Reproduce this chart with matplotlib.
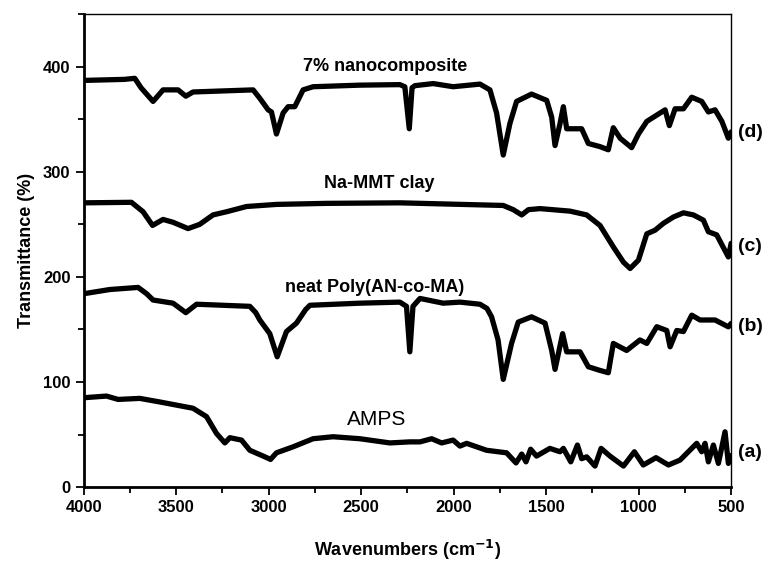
import matplotlib
matplotlib.use('Agg')
import matplotlib.pyplot as plt
from matplotlib.ticker import MultipleLocator
from matplotlib import rcParams

rcParams['font.family'] = ['Liberation Sans', 'DejaVu Sans']
rcParams['font.weight'] = 'bold'

# (a) AMPS
wn_a = [4000, 3877, 3814, 3697, 3589, 3409, 3336, 3282, 3237, 3210, 3147, 3102, 3030,
        2990, 2958, 2868, 2760, 2652, 2507, 2345, 2237, 2182, 2119, 2065, 2003, 1966,
        1930, 1822, 1714, 1663, 1632, 1609, 1584, 1552, 1480, 1425, 1407, 1367, 1331,
        1308, 1281, 1236, 1203, 1155, 1082, 1023, 975, 906, 839, 776, 686, 659, 641,
        623, 596, 569, 533, 515, 500]
tr_a = [85, 86.6, 83.4, 84.4, 81, 75, 67, 51, 42, 47, 44.7, 35, 29.5,
        26.3, 32.6, 38.3, 46, 47.9, 46, 42, 43, 43, 46, 42, 44.7, 39,
        41.6, 35, 32.6, 23, 31.4, 24, 36, 29.5, 36.8, 33.6, 36.8, 24, 40,
        27, 28.8, 20, 36.8, 29.5, 20, 33.6, 21, 28, 21, 25.7, 41.6, 33.6, 41.6,
        24, 40, 22.5, 52.6, 22.5, 30]

# (b) neat Poly(AN-co-MA)
wn_b = [4000, 3859, 3706, 3660, 3625, 3517, 3448, 3390, 3102, 3070, 3048, 2994, 2954,
        2904, 2850, 2800, 2777, 2507, 2291, 2255, 2237, 2220, 2182, 2057, 1966, 1858,
        1820, 1795, 1760, 1732, 1687, 1651, 1579, 1506, 1470, 1452, 1411, 1389, 1317,
        1272, 1209, 1164, 1137, 1065, 993, 956, 902, 848, 830, 794, 758, 713, 668, 587,
        515, 500]
tr_b = [184, 188, 190, 184, 178, 175, 166, 174, 172, 166, 159, 146, 124,
        148, 156, 169, 173, 175, 176, 172, 128.7, 172, 179.5, 175, 176, 174,
        170, 162, 140, 102.5, 136.7, 157, 162, 156, 130, 112, 146, 128.7, 128.7,
        114.5, 111, 108.8, 136.7, 130, 140, 136.7, 152.6, 149, 133.5, 149, 148, 163.6,
        159, 159, 152.5, 155.7]

# (c) Na-MMT clay
wn_c = [4000, 3742, 3679, 3628, 3571, 3517, 3436, 3373, 3301, 3228, 3120, 2958, 2687,
        2291, 1732, 1678, 1632, 1596, 1533, 1371, 1281, 1209, 1137, 1082, 1046, 1001,
        956, 911, 866, 812, 758, 704, 650, 623, 578, 515, 500]
tr_c = [270.5, 271, 262, 249, 254.7, 252, 246, 250, 259, 262, 267, 269, 270,
        270.5, 268, 264, 259, 264, 265, 262.6, 259, 249, 228.6, 214, 208, 216,
        241, 244.5, 251, 257, 261, 259, 254, 243, 240, 219, 232]

# (d) 7% nanocomposite
wn_d = [4000, 3780, 3724, 3690, 3625, 3571, 3490, 3448, 3409, 3084, 3048, 3003, 2985,
        2958, 2922, 2895, 2859, 2814, 2760, 2507, 2291, 2264, 2240, 2225, 2210, 2111,
        2003, 1858, 1804, 1768, 1732, 1696, 1660, 1579, 1497, 1470, 1452, 1425, 1407,
        1389, 1353, 1308, 1272, 1209, 1164, 1137, 1100, 1038, 1001, 956, 902, 857, 834,
        803, 758, 713, 659, 623, 587, 550, 515, 500]
tr_d = [387, 388, 389, 380, 367, 378, 378, 372, 376, 378, 370, 359, 357,
        336, 356, 362, 362, 378, 381, 382.5, 383, 381, 341, 380, 382, 384,
        381, 383.5, 378, 356, 316, 346, 367, 374, 368, 352, 325, 346, 362,
        341, 341, 341, 327, 324, 321, 342, 332, 323, 336, 348, 354, 359, 344,
        360, 360, 371, 367, 357, 359, 348, 332, 338]

curve_names = ['7% nanocomposite', 'Na-MMT clay', 'neat Poly(AN-co-MA)', 'AMPS']
letters = ['(d)', '(c)', '(b)', '(a)']

fig = plt.figure(figsize=(7.68, 5.69), dpi=100)
ax = fig.add_axes([0.109, 0.144, 0.843, 0.831])

for x, y in [(wn_a, tr_a), (wn_b, tr_b), (wn_c, tr_c), (wn_d, tr_d)]:
    ax.plot(x, y, color='black', lw=3.8, solid_joinstyle='round', solid_capstyle='round')

ax.set_xlim(4000, 500)
ax.set_ylim(0, 450)
ax.xaxis.set_major_locator(MultipleLocator(500))
ax.xaxis.set_minor_locator(MultipleLocator(250))
ax.yaxis.set_major_locator(MultipleLocator(100))
ax.yaxis.set_minor_locator(MultipleLocator(50))
ax.tick_params(which='both', direction='out', width=1.3, labelsize=12)
ax.tick_params(which='major', length=6)
ax.tick_params(which='minor', length=4)
ax.tick_params(top=False, right=False)

ax.spines['left'].set_linewidth(2)
ax.spines['bottom'].set_linewidth(2)
ax.spines['top'].set_linewidth(1)
ax.spines['right'].set_linewidth(1)

ax.set_xlabel('Wavenumbers (cm$^{\\mathbf{-1}}$)', fontsize=13, fontweight='bold', labelpad=16)
ax.set_ylabel('Transmittance (%)', fontsize=13, fontweight='bold', labelpad=6)

# curve names
ax.text(2372, 400, curve_names[0], ha='center', va='center', fontsize=13, fontweight='bold')
ax.text(2404, 289, curve_names[1], ha='center', va='center', fontsize=13, fontweight='bold')
ax.text(2426, 190, curve_names[2], ha='center', va='center', fontsize=13, fontweight='bold')
ax.text(2415, 64, curve_names[3], ha='center', va='center', fontsize=15, fontweight='normal')

# letters to the right of the axes
for lab, yv in zip(letters, [337, 229, 153, 33]):
    ax.text(1.01, yv, lab, transform=ax.get_yaxis_transform(), ha='left', va='center',
            fontsize=14, fontweight='bold', clip_on=False)

fig.savefig('out.png', dpi=100)
